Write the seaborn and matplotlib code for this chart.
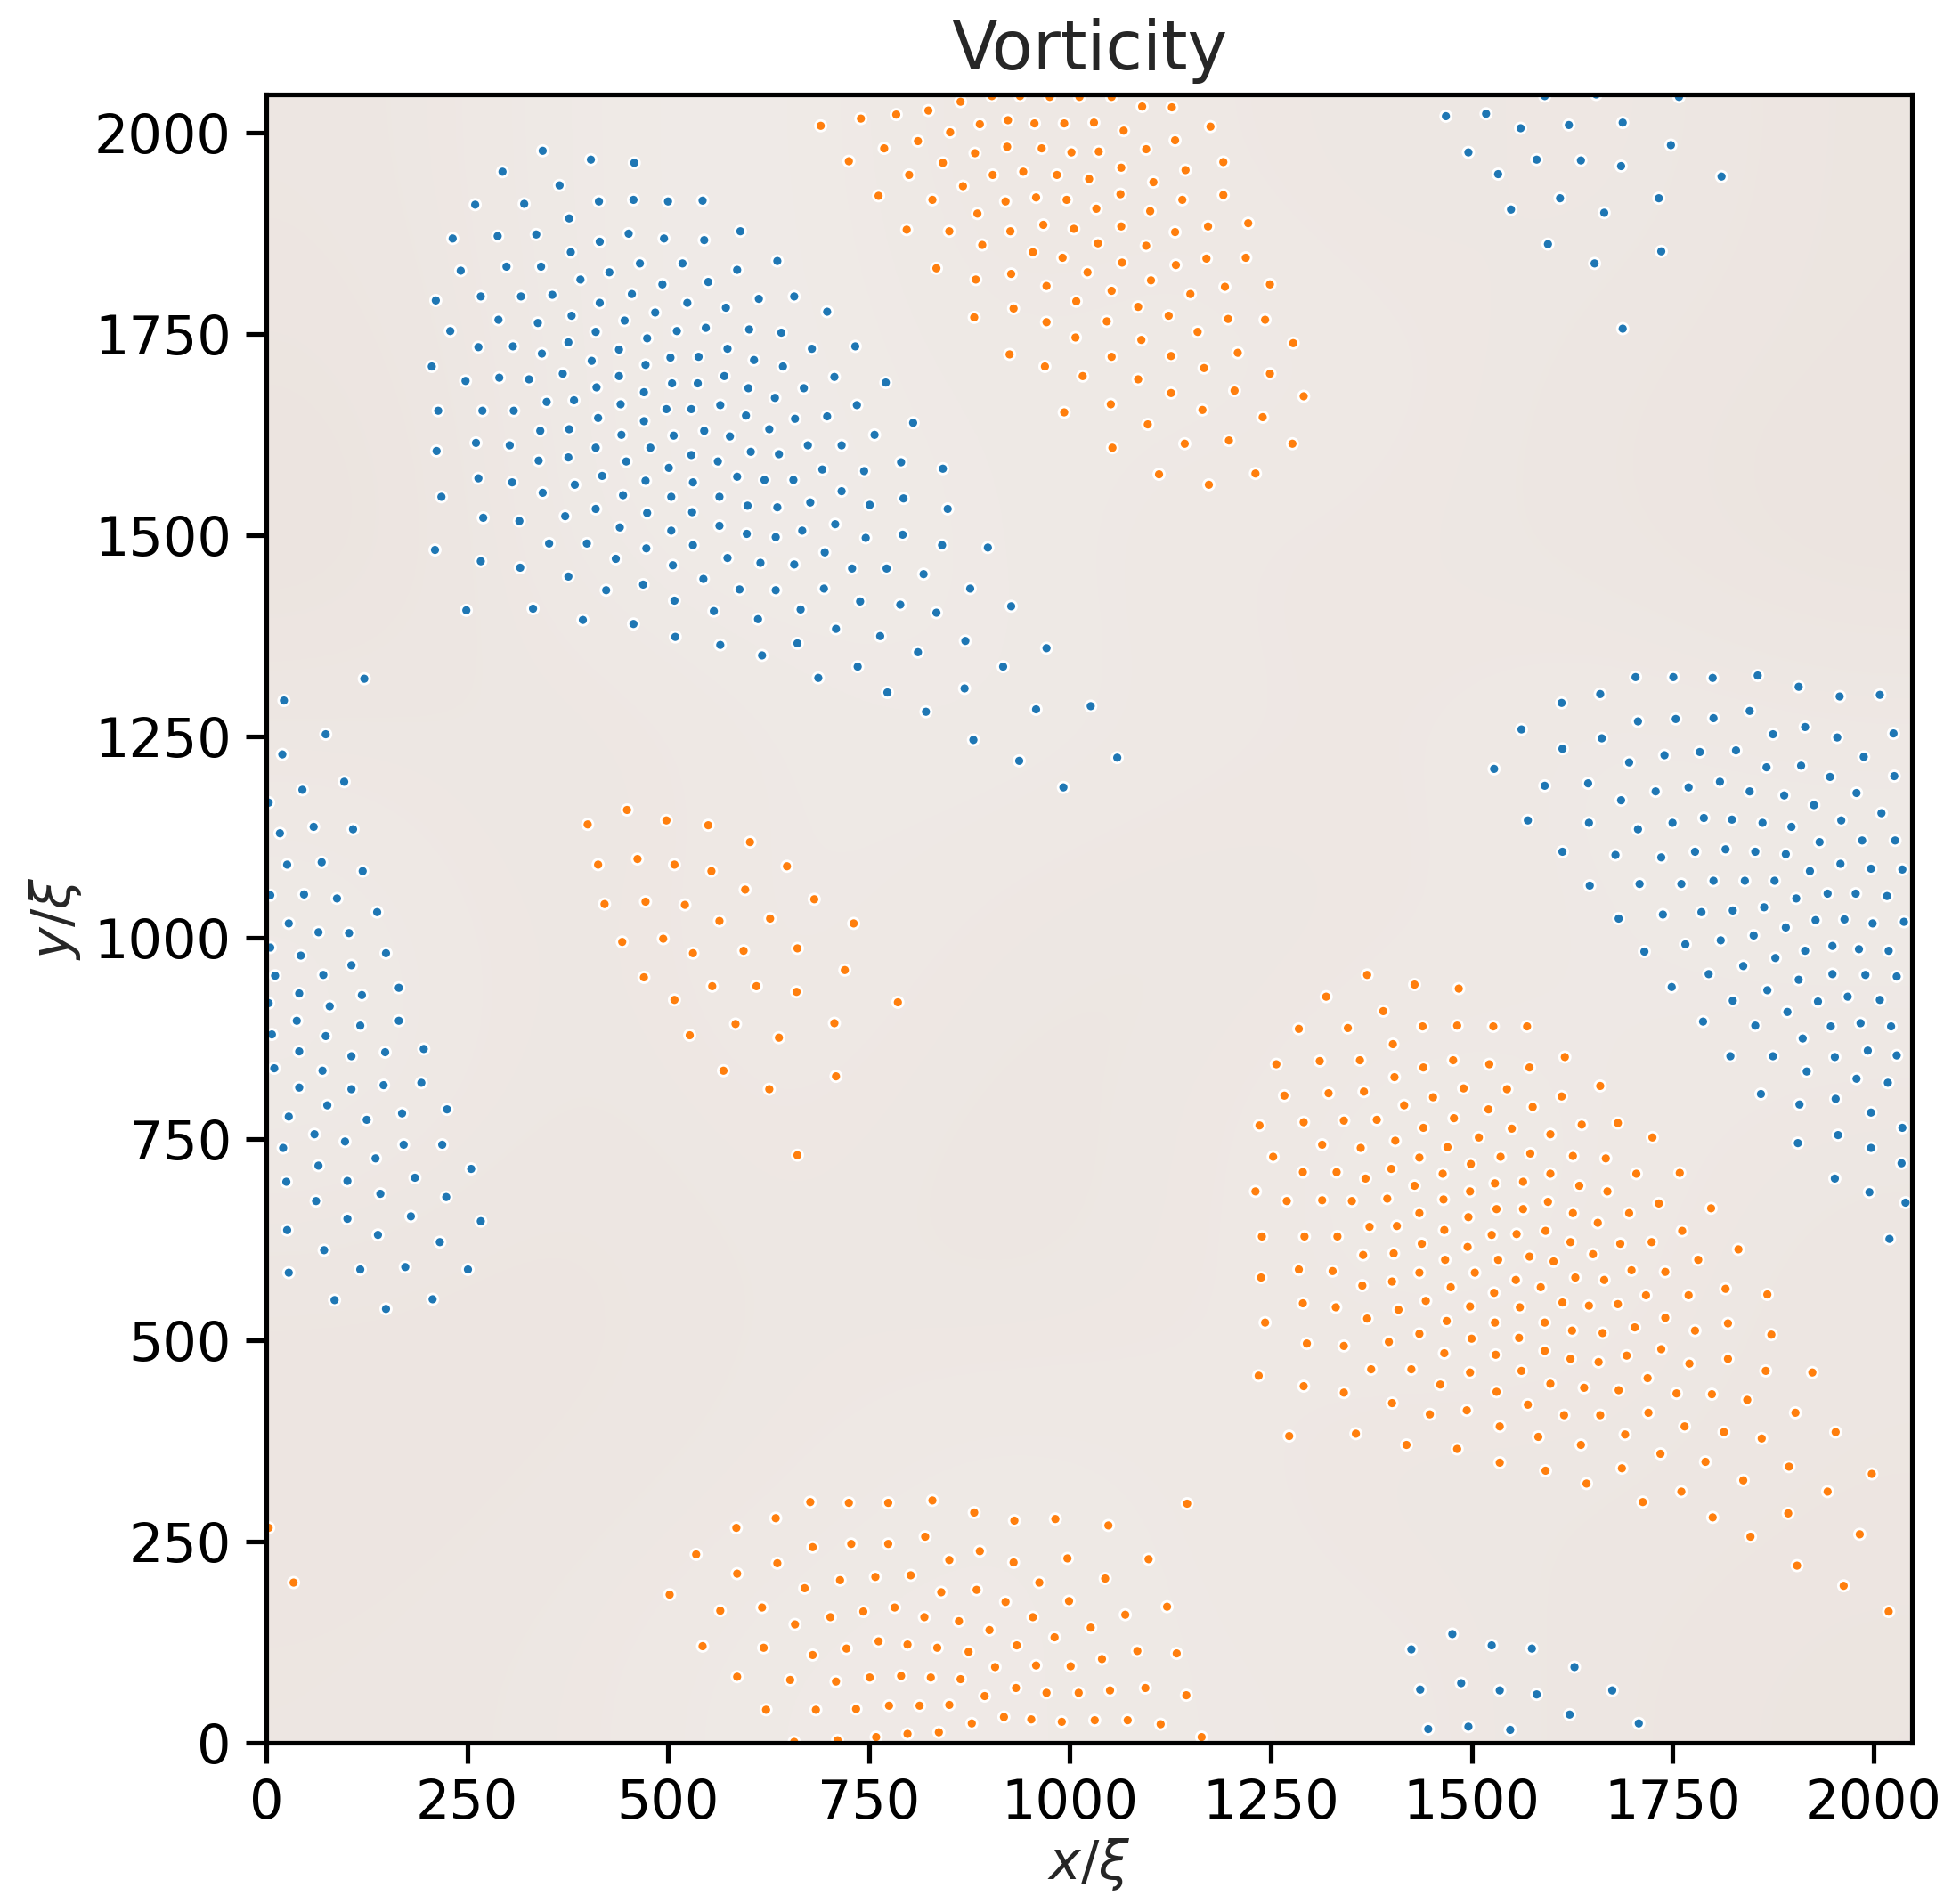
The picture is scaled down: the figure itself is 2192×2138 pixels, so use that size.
import numpy as np
import pandas as pd
import matplotlib
matplotlib.use("Agg")
import matplotlib.pyplot as plt
from matplotlib.colors import LinearSegmentedColormap
import seaborn as sns

# ---------------- data (units of xi) ----------------
blue_nw = [(344,1978),(404,1967),(458,1963),(294,1952),(365,1935),(260,1911),(321,1912),(414,1915),(457,1917),(500,1915),
(377,1894),(232,1869),(288,1872),(336,1874),(415,1865),(451,1875),(495,1869),(379,1852),(242,1829),(299,1834),(342,1834),
(391,1818),(427,1827),(465,1838),(518,1838),(493,1812),(211,1792),(267,1797),(317,1797),(356,1799),(415,1789),(455,1800),
(524,1789),(289,1768),(338,1764),(380,1773),(446,1767),(484,1777),(229,1754),(410,1753),(511,1754),(264,1734),(307,1735),
(343,1726),(376,1740),(439,1731),(474,1745),(206,1710),(405,1717),(472,1712),(503,1721),(248,1692),(290,1696),(327,1694),
(369,1701),(439,1698),(411,1684),(470,1678),(505,1689),(349,1666),(383,1668),(441,1663),(214,1655),(269,1655),(308,1655),
(498,1657),(529,1657),(413,1646),(470,1642),(341,1630),(377,1632),(442,1625),(507,1624),(212,1605),(261,1615),(303,1612),
(410,1609),(478,1609),(529,1600),(339,1593),(376,1597),(448,1592),(501,1584),(264,1571),(306,1566),(418,1574),(384,1563),
(472,1568),(531,1566),(218,1548),(344,1553),(444,1550),(504,1548),(270,1522),(315,1518),(372,1524),(410,1533),(474,1528),
(530,1529),(440,1510),(504,1506),(210,1482),(352,1490),(399,1490),(473,1484),(531,1488),(267,1468),(316,1460),(435,1471),
(506,1463),(376,1449),(423,1432),(469,1439),(508,1419),(249,1407),(332,1409),(394,1395),(457,1390),(509,1374),
(543,1916),(590,1878),(545,1867),(586,1830),(636,1841),(550,1815),(572,1783),(613,1794),(657,1797),(698,1778),(547,1758),
(601,1756),(641,1752),(679,1732),(733,1735),(538,1722),(574,1732),(607,1718),(643,1710),(707,1697),(771,1690),(537,1689),
(570,1698),(600,1683),(633,1671),(669,1683),(735,1662),(565,1662),(597,1649),(658,1645),(698,1648),(805,1640),(545,1630),
(577,1623),(626,1632),(757,1625),(562,1592),(603,1604),(638,1601),(674,1612),(716,1612),(586,1573),(620,1569),(656,1569),
(692,1582),(744,1580),(790,1591),(842,1583),(564,1548),(599,1537),(636,1535),(677,1541),(716,1555),(751,1538),(793,1546),
(848,1533),(564,1512),(598,1502),(634,1498),(667,1506),(708,1514),(746,1497),(792,1501),(841,1488),(898,1485),(544,1446),
(574,1472),(615,1466),(657,1464),(695,1479),(729,1459),(772,1459),(818,1452),(876,1434),(557,1406),(589,1433),(634,1432),
(694,1434),(665,1408),(739,1418),(789,1414),(834,1404),(927,1412),(565,1364),(612,1396),(661,1366),(709,1384),(764,1375),
(811,1355),(870,1369),(971,1360),(617,1351),(687,1323),(736,1337),(917,1337),(773,1305),(821,1281),(869,1310),(958,1284),
(1026,1288),(880,1246),(937,1220),(992,1187),(1059,1224)]

blue_ne = [(1468,2021),(1518,2024),(1496,1976),(1533,1949),(1549,1905),(1591,2046),(1655,2048),(1758,2045),(1561,2006),
(1621,2010),(1688,2013),(1748,1985),(1581,1967),(1636,1966),(1686,1959),(1811,1946),(1610,1919),(1733,1919),(1665,1901),
(1595,1862),(1736,1853),(1653,1838),(1688,1757)]

blue_e = [(1704,1324),(1751,1324),(1800,1323),(1856,1326),(1907,1312),(1958,1300),(2008,1302),(1612,1292),(1660,1303),
(1562,1259),(1707,1269),(1754,1272),(1801,1273),(1846,1282),(1875,1253),(1915,1262),(1955,1249),(2025,1254),(1613,1235),
(1662,1248),(1528,1210),(1696,1218),(1740,1227),(1784,1231),(1829,1233),(1867,1212),(1910,1214),(1946,1200),(1988,1225),
(2026,1201),(1591,1189),(1645,1192),(1686,1171),(1729,1182),(1770,1187),(1809,1194),(1846,1182),(1889,1177),(1926,1165),
(1979,1180),(1570,1146),(1646,1143),(1707,1135),(1750,1143),(1789,1149),(1824,1147),(1862,1143),(1898,1138),(1960,1146),
(2010,1155),(1613,1107),(1679,1103),(1736,1100),(1778,1107),(1816,1110),(1853,1107),(1891,1104),(1933,1119),(1986,1121),
(2027,1121),(1647,1065),(1709,1067),(1761,1067),(1801,1071),(1840,1071),(1877,1071),(1921,1083),(1959,1092),(1997,1086),
(2036,1085),(1683,1024),(1738,1029),(1786,1032),(1825,1034),(1864,1038),(1904,1049),(1943,1055),(1978,1055),(2017,1052),
(1715,983),(1766,992),(1810,997),(1851,1003),(1891,1013),(1928,1022),(1964,1023),(1999,1018),(2038,1020),(1795,955),
(1838,965),(1878,975),(1915,984),(1949,990),(1982,986),(2019,984),(1749,939),(1868,935),(1907,948),(1949,955),(1990,954),
(2029,952),(1825,922),(1893,908),(1931,921),(1968,927),(2008,923),(1788,896),(1853,891),(1912,875),(1947,890),(1984,894),
(2022,890),(1822,853),(1875,853),(1917,834),(1952,852),(1993,860),(2029,854),(1860,806),(1908,793),(1953,800),(1979,825),
(2018,820),(1997,783),(1906,745),(1956,755),(2036,764),(1997,739),(2035,720),(1952,701),(1995,684),(2040,671),(2020,626)]

blue_w = [(122,1322),(22,1295),(74,1253),(20,1228),(97,1194),(45,1184),(3,1168),(59,1138),(108,1135),(17,1130),(26,1091),
(69,1094),(120,1083),(5,1053),(47,1054),(88,1049),(138,1032),(28,1018),(65,1007),(103,1006),(5,988),(43,978),(149,981),
(106,966),(71,954),(11,953),(41,931),(119,929),(165,938),(3,919),(79,915),(38,897),(117,891),(165,897),(7,880),(74,878),
(41,859),(106,853),(148,858),(196,862),(10,838),(70,835),(41,814),(106,812),(146,817),(193,820),(76,792),(28,778),
(125,774),(169,782),(225,787),(60,756),(21,739),(98,747),(171,743),(219,743),(65,717),(136,726),(255,713),(25,697),
(101,698),(185,702),(142,682),(224,678),(62,673),(101,651),(180,654),(267,648),(26,637),(139,631),(216,622),(72,612),
(28,584),(117,588),(173,591),(251,588),(85,550),(149,539),(207,551)]

blue_s = [(1425,116),(1476,135),(1436,66),(1487,74),(1446,17),(1496,20),(1525,121),(1575,117),(1628,94),(1535,65),
(1581,60),(1675,65),(1622,35),(1708,24),(1548,16)]

orange_n = [(864,2039),(903,2046),(938,2046),(975,2045),(1012,2045),(690,2009),(740,2018),(784,2023),(824,2028),(851,2001),
(888,2011),(923,2016),(956,2012),(993,2012),(1030,2013),(811,1990),(769,1981),(725,1965),(842,1963),(882,1975),(922,1983),
(965,1981),(1002,1976),(1036,1977),(800,1948),(867,1934),(904,1948),(942,1952),(984,1948),(1024,1943),(762,1922),(829,1917),
(885,1900),(920,1915),(958,1920),(996,1917),(1033,1906),(797,1880),(850,1878),(926,1878),(967,1886),(1005,1881),(891,1861),
(954,1852),(991,1845),(1035,1863),(834,1832),(883,1818),(927,1825),(971,1810),(1022,1827),(930,1782),(881,1771),(971,1765),
(1008,1791),(1007,1746),(925,1725),(969,1710),(1016,1698),(993,1653),
(1052,2045),(1090,2033),(1127,2032),(1067,2003),(1175,2008),(1095,1980),(1131,1991),(1191,1964),(1064,1957),(1144,1954),
(1104,1939),(1063,1924),(1140,1917),(1191,1923),(1100,1903),(1064,1884),(1131,1877),(1172,1884),(1222,1888),(1095,1860),
(1065,1839),(1132,1836),(1170,1844),(1219,1845),(1101,1817),(1052,1804),(1150,1800),(1193,1809),(1249,1812),(1085,1784),
(1123,1773),(1046,1766),(1159,1753),(1197,1769),(1243,1768),(1089,1743),(1052,1722),(1126,1723),(1209,1727),(1278,1739),
(1085,1694),(1167,1708),(1249,1701),(1126,1677),(1205,1680),(1291,1673),(1051,1663),(1165,1656),(1240,1647),(1097,1638),
(1143,1614),(1198,1618),(1277,1614),(1053,1609),(1111,1576),(1173,1563),(1231,1577)]

orange_c = [(449,1159),(400,1141),(498,1146),(413,1091),(462,1098),(508,1091),(421,1042),(472,1045),(521,1041),(443,995),
(494,999),(531,981),(470,951),(508,923),(527,879),(550,1140),(602,1119),(554,1083),(648,1089),(596,1060),(682,1048),
(564,1021),(627,1024),(731,1018),(594,984),(661,987),(720,960),(555,940),(610,940),(660,933),(786,920),(584,893),(707,894),
(638,876),(569,835),(709,828),(626,812),(661,730)]

orange_se = [(1370,954),(1429,942),(1484,937),(1319,927),(1390,909),(1285,887),(1346,888),(1439,890),(1482,891),(1402,868),
(1257,843),(1311,847),(1361,848),(1440,839),(1477,848),(1404,827),(1267,804),(1322,807),(1366,809),(1452,802),(1490,813),
(1416,792),(1236,767),(1291,771),(1341,773),(1382,774),(1440,764),(1478,776),(1314,743),(1362,739),(1405,748),(1470,740),
(1509,752),(1253,728),(1435,727),(1499,719),(1290,709),(1332,709),(1368,701),(1400,713),(1464,707),(1429,692),(1498,685),
(1231,685),(1270,673),(1314,674),(1351,673),(1395,676),(1465,675),
(1527,890),(1569,890),(1616,852),(1522,843),(1572,839),(1660,816),(1544,812),(1612,803),(1576,790),(1521,787),(1637,768),
(1682,770),(1550,763),(1598,756),(1725,752),(1536,728),(1573,732),(1626,729),(1667,726),(1598,707),(1705,707),(1759,708),
(1529,695),(1564,697),(1634,692),(1669,685),
(1435,658),(1496,653),(1239,629),(1292,629),(1333,629),(1373,641),(1407,642),(1466,637),(1438,620),(1495,616),(1365,606),
(1403,608),(1467,600),(1238,578),(1285,588),(1327,586),(1435,584),(1504,584),(1364,568),(1401,573),(1474,566),(1290,546),
(1331,541),(1443,549),(1409,538),(1498,542),(1370,527),(1469,524),(1243,522),(1295,496),(1341,493),(1397,498),(1435,508),
(1500,502),(1466,484),(1235,456),(1375,464),(1425,464),(1498,460),(1291,443),(1341,435),(1461,445),(1401,422),(1448,408),
(1494,413),(1273,381),(1356,384),(1419,370),(1482,365),
(1595,672),(1733,670),(1531,663),(1564,663),(1626,658),(1657,646),(1696,658),(1798,664),(1525,631),(1556,632),(1592,636),
(1623,622),(1651,607),(1685,620),(1724,622),(1762,636),(1832,613),(1533,600),(1572,604),(1602,598),(1629,578),(1665,575),
(1699,587),(1741,585),(1782,600),(1555,575),(1586,566),(1528,559),(1560,541),(1613,547),(1646,543),(1682,545),(1717,556),
(1770,556),(1816,564),(1868,557),(1529,522),(1559,503),(1591,522),(1625,512),(1663,509),(1703,516),(1741,528),(1778,512),
(1819,521),(1873,507),(1530,482),(1562,462),(1591,487),(1623,477),(1658,473),(1693,481),(1736,489),(1719,453),(1771,471),
(1819,477),(1866,462),(1924,460),(1531,436),(1570,420),(1598,446),(1640,441),(1683,438),(1755,434),(1799,433),(1843,426),
(1615,407),(1660,407),(1720,410),(1903,410),(1535,393),(1583,380),(1636,370),(1691,383),(1765,393),(1814,386),(1861,378),
(1953,386),(1535,348),(1592,338),(1643,322),(1687,341),(1735,359),(1791,349),(1838,326),(1895,343),(1998,334),(1713,299),
(1761,312),(1800,280),(1894,285),(1943,312),(1847,256),(1983,259),(1905,220),(1963,195),(2019,163)]

orange_s = [(677,299),(725,298),(774,298),(829,301),(881,286),(931,276),(982,278),(585,267),(634,279),(535,234),(680,243),
(728,247),(774,247),(820,256),(850,227),(888,238),(930,224),(997,229),(636,223),(586,210),(670,192),(714,202),(758,206),
(802,208),(840,187),(884,190),(920,175),(962,199),(565,164),(617,168),(658,147),(702,156),(743,163),(782,168),(819,156),
(862,151),(900,140),(954,156),(999,176),(543,120),(619,118),(680,109),(722,117),(762,126),(798,122),(835,118),(874,113),
(934,121),(981,131),(586,82),(652,78),(709,76),(751,81),(790,83),(827,81),(864,79),(907,94),(958,96),(1001,95),(933,68),
(894,58),(971,62),(622,41),(684,41),(734,42),(775,46),(813,46),(850,47),(878,24),(918,32),(952,29),(990,26),(657,1),
(711,3),(759,7),(798,11),(837,13),
(1146,297),(1048,270),(1098,228),(1044,204),(1121,169),(1069,159),(1026,143),(1084,114),(1133,111),(1040,104),(1094,68),
(1050,65),(1145,59),(1011,62),(1031,28),(1072,28),(1113,23),(1164,7),
(34,199),(502,184),(3,267)]

# coarse background vorticity field (0 = lightest, 1 = pinkest), rows from top (y=2048) to bottom
field_rows = [
    [0.6, 0.3, 0.2, 0.5, 0.4, 0.6, 0.4, 0.7],
    [0.7, 0.3, 0.2, 0.4, 0.3, 0.4, 0.6, 0.7],
    [0.8, 0.3, 0.2, 0.3, 0.5, 0.5, 0.6, 0.8],
    [0.5, 0.6, 0.4, 0.3, 0.4, 0.5, 0.3, 0.4],
    [0.3, 0.6, 0.3, 0.5, 0.6, 0.5, 0.4, 0.3],
    [0.3, 0.6, 0.4, 0.6, 0.5, 0.3, 0.4, 0.5],
    [0.6, 0.7, 0.5, 0.6, 0.5, 0.3, 0.4, 0.6],
    [0.7, 0.6, 0.5, 0.3, 0.4, 0.6, 0.5, 0.6],
    [0.6, 0.5, 0.3, 0.3, 0.4, 0.4, 0.6, 0.7],
]

L = 2048
ticks = [0, 250, 500, 750, 1000, 1250, 1500, 1750, 2000]

# ---------------- build table ----------------
frames = []
for pts, sign in [(blue_nw, "pos"), (blue_ne, "pos"), (blue_e, "pos"), (blue_w, "pos"), (blue_s, "pos"),
                  (orange_n, "neg"), (orange_c, "neg"), (orange_se, "neg"), (orange_s, "neg")]:
    a = np.array(pts, dtype=float)
    frames.append(pd.DataFrame({"x": a[:, 0], "y": a[:, 1], "sign": sign}))
df = pd.concat(frames, ignore_index=True)

# ---------------- plot ----------------
sns.set_style("ticks", {"axes.edgecolor": "black", "xtick.color": "black", "ytick.color": "black"})
plt.rcParams["font.family"] = ["DejaVu Sans"]
plt.rcParams["mathtext.fontset"] = "dejavusans"

dpi = 340
fig = plt.figure(figsize=(2192 / dpi, 2138 / dpi), dpi=dpi)
ax = fig.add_axes([0.1364, 0.0847, 0.8431, 0.8657])

cmap = LinearSegmentedColormap.from_list("bg", ["#f1eeeb", "#ebe1dc"])
ax.imshow(np.array(field_rows), extent=(0, L, 0, L), origin="upper", cmap=cmap, vmin=0, vmax=1,
          interpolation="bicubic", aspect="auto", zorder=0)

sns.scatterplot(data=df, x="x", y="y", hue="sign", palette={"pos": "#1f77b4", "neg": "#ff7f0e"},
                s=6.5, edgecolor="white", linewidth=0.6, legend=False, ax=ax, zorder=2)

ax.set_xlim(0, L)
ax.set_ylim(0, L)
ax.set_xticks(ticks)
ax.set_yticks(ticks)
ax.tick_params(labelsize=12.8, length=4.8, width=1.1, pad=3.5)
for sp in ax.spines.values():
    sp.set_linewidth(1.1)
    sp.set_color("black")
ax.set_xlabel(r"$x/\xi$", fontsize=12.8, labelpad=1.5)
ax.set_ylabel(r"$y/\xi$", fontsize=12.8, labelpad=2.5)
ax.set_title("Vorticity", fontsize=16, pad=6)

fig.savefig("out.png", dpi=dpi, facecolor="white")
